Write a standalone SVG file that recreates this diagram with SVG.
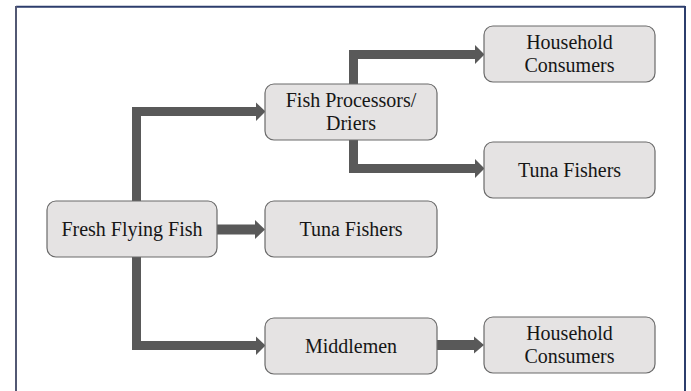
<svg xmlns="http://www.w3.org/2000/svg" width="691" height="391" viewBox="0 0 691 391">
<style>
.box{fill:#e5e3e3;stroke:#6a6a6a;stroke-width:1.2}
.lbl{font-family:"Liberation Serif","Times New Roman",serif;font-size:20px;fill:#161616;text-anchor:middle}
.bar{fill:none;stroke:#595959;stroke-width:9;stroke-linejoin:miter}
.head{fill:#595959}
</style>
<rect width="691" height="391" fill="#ffffff"/>
<g id="frame">
<line x1="16" y1="6.8" x2="685" y2="6.8" stroke="#2c3d6c" stroke-width="2"/>
<line x1="16" y1="6" x2="16" y2="391" stroke="#525873" stroke-width="2"/>
<line x1="685" y1="6" x2="685" y2="391" stroke="#2c3d6c" stroke-width="2"/>
</g>
<g id="connectors">
<path class="bar" d="M136.5 201 V111.5 H257"/>
<polygon class="head" points="256,102.5 265.5,111.5 256,121"/>
<path class="bar" d="M136.5 257 V345.5 H257"/>
<polygon class="head" points="256,336.5 265.5,345.5 256,355"/>
<path class="bar" d="M217 229.5 H256" style="stroke-width:10"/>
<polygon class="head" points="255,220 265,229.5 255,239"/>
<path class="bar" d="M353.5 84 V54.5 H476"/>
<polygon class="head" points="475,45 484.5,54.5 475,64"/>
<path class="bar" d="M353.5 140 V168.5 H476"/>
<polygon class="head" points="475,159 484.5,168.5 475,178"/>
<path class="bar" d="M437 345 H475" style="stroke-width:10"/>
<polygon class="head" points="474,336.5 484,345 474,353.5"/>
</g>
<g id="fresh">
<rect class="box" x="47" y="201" width="170" height="56" rx="9"/>
<text class="lbl" x="132" y="236">Fresh Flying Fish</text>
</g>
<g id="processors">
<rect class="box" x="265" y="84" width="172" height="56" rx="9"/>
<text class="lbl" x="351" y="107">Fish Processors/</text>
<text class="lbl" x="351" y="130">Driers</text>
</g>
<g id="tuna1">
<rect class="box" x="265" y="201" width="172" height="56" rx="9"/>
<text class="lbl" x="351" y="236">Tuna Fishers</text>
</g>
<g id="middlemen">
<rect class="box" x="265" y="318" width="172" height="56" rx="9"/>
<text class="lbl" x="351" y="353">Middlemen</text>
</g>
<g id="household1">
<rect class="box" x="484" y="26" width="171" height="56" rx="9"/>
<text class="lbl" x="569.5" y="49">Household</text>
<text class="lbl" x="569.5" y="72">Consumers</text>
</g>
<g id="tuna2">
<rect class="box" x="484" y="142" width="171" height="56" rx="9"/>
<text class="lbl" x="569.5" y="177">Tuna Fishers</text>
</g>
<g id="household2">
<rect class="box" x="484" y="317" width="171" height="56" rx="9"/>
<text class="lbl" x="569.5" y="340">Household</text>
<text class="lbl" x="569.5" y="363">Consumers</text>
</g>
</svg>
